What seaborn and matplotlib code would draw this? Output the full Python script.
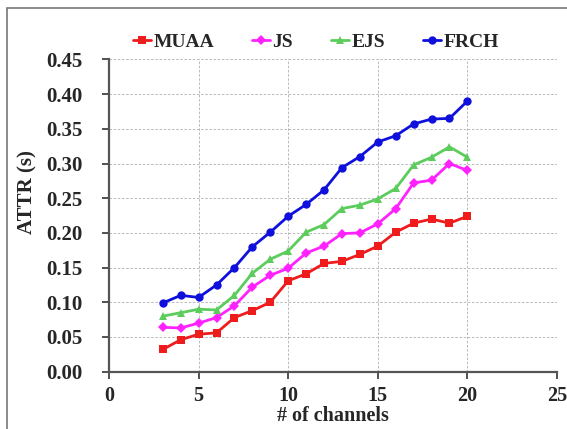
import matplotlib
matplotlib.use("Agg")
import matplotlib.pyplot as plt
import seaborn as sns
import pandas as pd
from matplotlib.patches import Rectangle
from matplotlib.ticker import FormatStrFormatter

channels = [3, 4, 5, 6, 7, 8, 9, 10, 11, 12, 13, 14, 15, 16, 17, 18, 19, 20]
muaa = [0.032, 0.046, 0.054, 0.056, 0.078, 0.088, 0.100, 0.131, 0.141, 0.156, 0.159, 0.169,
        0.181, 0.201, 0.214, 0.220, 0.214, 0.224]
js = [0.064, 0.063, 0.070, 0.078, 0.095, 0.122, 0.139, 0.149, 0.171, 0.181, 0.199, 0.200,
      0.213, 0.235, 0.272, 0.276, 0.300, 0.290]
ejs = [0.080, 0.085, 0.090, 0.089, 0.110, 0.142, 0.162, 0.174, 0.201, 0.212, 0.235, 0.240,
       0.249, 0.264, 0.298, 0.309, 0.324, 0.309]
frch = [0.099, 0.110, 0.107, 0.125, 0.150, 0.180, 0.201, 0.224, 0.241, 0.262, 0.294, 0.310,
        0.331, 0.340, 0.357, 0.364, 0.365, 0.390]
series_names = ["MUAA", "JS", "EJS", "FRCH"]
x_ticks = [0, 5, 10, 15, 20, 25]
y_ticks = [0.00, 0.05, 0.10, 0.15, 0.20, 0.25, 0.30, 0.35, 0.40, 0.45]

rows = []
for name, vals in zip(series_names, [muaa, js, ejs, frch]):
    for c, v in zip(channels, vals):
        rows.append({"channels": c, "ATTR": v, "method": name})
df = pd.DataFrame(rows)

sns.set_style("ticks")
plt.rcParams["font.family"] = ["Liberation Serif", "DejaVu Serif"]
plt.rcParams["font.weight"] = "bold"

fig = plt.figure(figsize=(5.67, 4.29), dpi=100)
ax = fig.add_axes([109 / 567, 1 - 371.7 / 429, 448 / 567, 312.3 / 429])

palette = {"MUAA": "#ee1c1c", "JS": "#ff22ff", "EJS": "#5ccc5c", "FRCH": "#1010dd"}
markers = {"MUAA": "s", "JS": "D", "EJS": "^", "FRCH": "o"}
sns.lineplot(data=df, x="channels", y="ATTR", hue="method", style="method",
             hue_order=series_names, style_order=series_names,
             palette=palette, markers=markers, dashes=False, linewidth=2.0,
             markersize=6, markeredgewidth=0, ax=ax)
for line in ax.lines:
    if line.get_marker() == "D":
        line.set_markersize(5)

ax.set_xlim(0, 25)
ax.set_ylim(0, 0.45)
ax.set_xticks(x_ticks)
ax.set_yticks(y_ticks)
ax.yaxis.set_major_formatter(FormatStrFormatter("%.2f"))
ax.grid(True, linestyle=(0, (3, 2)), color="#b0b0b0", linewidth=0.6)
for s in ["top", "right"]:
    ax.spines[s].set_visible(False)
for s in ["left", "bottom"]:
    ax.spines[s].set_color("#555555")
    ax.spines[s].set_linewidth(1.6)
ax.tick_params(axis="both", direction="out", length=5, width=1.2, color="#333333",
               labelsize=15)
ax.tick_params(axis="x", labelsize=14.5, pad=5)
ax.tick_params(axis="y", pad=14)
for lab in ax.get_xticklabels() + ax.get_yticklabels():
    lab.set_fontweight("bold")

ax.set_xlabel("# of channels", fontsize=14.5, fontweight="bold", labelpad=0.5)
ax.set_ylabel("ATTR (s)", fontsize=15, fontweight="bold")
ax.yaxis.set_label_coords(-0.16, 0.575)

handles, labels = ax.get_legend_handles_labels()
ax.legend(handles, labels, ncol=4, loc="center", bbox_to_anchor=(0.462, 1.055),
          frameon=False, prop={"size": 14, "weight": "bold"}, handlelength=0.9,
          handletextpad=0.15, columnspacing=1.95, borderaxespad=0)

fig.patches.append(Rectangle((6.5 / 567, -0.1), 1.2, 1.1 - 8.5 / 429, transform=fig.transFigure,
                             fill=False, edgecolor="#777777", linewidth=1.2))

fig.savefig("out.png", dpi=100)
